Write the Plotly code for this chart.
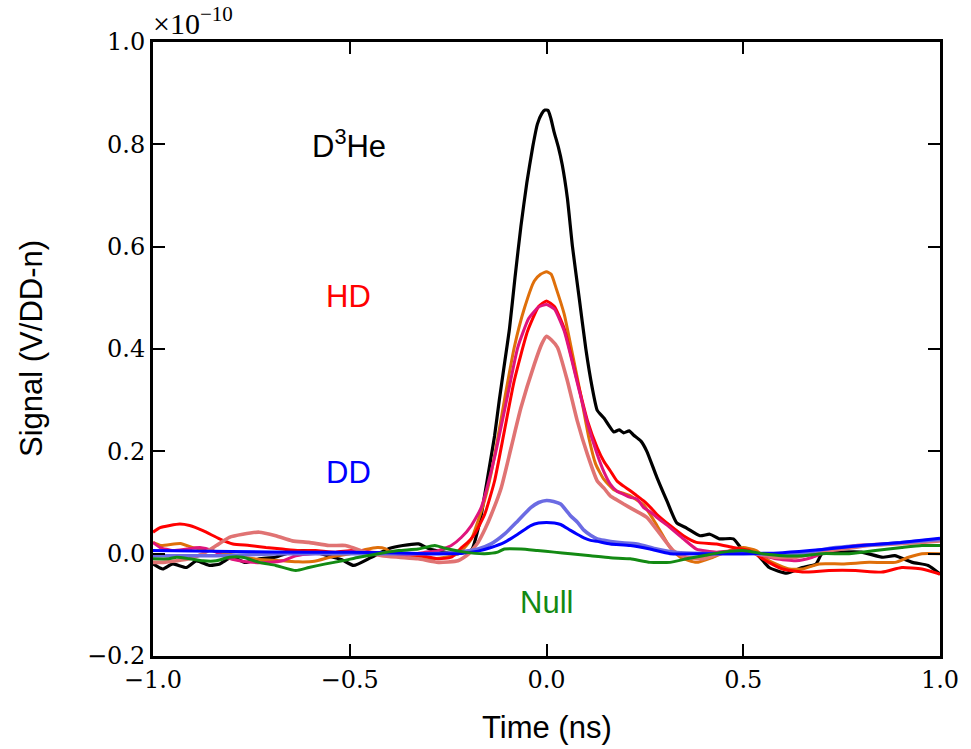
import plotly.graph_objects as go

# values in units of 1e-10 V/DD-n, time in ns
t_black = [-1.0,-0.975,-0.95,-0.915,-0.89,-0.855,-0.83,-0.8,-0.765,-0.73,-0.69,-0.645,-0.605,-0.555,-0.52,-0.49,-0.445,-0.4,-0.365,-0.325,-0.3,-0.26,-0.225,-0.19,-0.175,-0.166,-0.157,-0.145,-0.132,-0.12,-0.107,-0.094,-0.08,-0.065,-0.05,-0.035,-0.023,-0.012,-0.004,0.004,0.011,0.019,0.03,0.04,0.053,0.066,0.083,0.1,0.116,0.129,0.146,0.171,0.185,0.196,0.21,0.221,0.24,0.255,0.28,0.306,0.331,0.356,0.39,0.415,0.44,0.475,0.5,0.533,0.566,0.61,0.65,0.685,0.7,0.75,0.8,0.855,0.885,0.93,0.97,1.0]
v_black = [-0.02,-0.03,-0.02,-0.027,-0.014,-0.023,-0.02,-0.007,-0.017,-0.01,-0.007,0.004,0.006,-0.004,-0.012,-0.023,-0.007,0.01,0.016,0.019,0.01,0.003,0.0,0.008,0.045,0.075,0.115,0.17,0.23,0.30,0.37,0.44,0.54,0.64,0.725,0.795,0.84,0.86,0.867,0.866,0.851,0.825,0.795,0.76,0.695,0.6,0.5,0.4,0.325,0.28,0.265,0.238,0.242,0.236,0.24,0.232,0.22,0.2,0.15,0.103,0.06,0.05,0.035,0.038,0.029,0.029,0.006,0.0,-0.027,-0.038,-0.027,-0.02,0.0,0.003,0.003,-0.007,-0.004,-0.017,-0.023,-0.04]

t_orange = [-1.0,-0.98,-0.93,-0.9,-0.865,-0.814,-0.76,-0.72,-0.67,-0.63,-0.59,-0.545,-0.5,-0.46,-0.43,-0.41,-0.39,-0.36,-0.326,-0.292,-0.25,-0.225,-0.208,-0.19,-0.174,-0.157,-0.141,-0.124,-0.107,-0.082,-0.056,-0.031,-0.015,0.0,0.012,0.024,0.045,0.066,0.087,0.108,0.125,0.146,0.171,0.213,0.247,0.28,0.314,0.34,0.381,0.423,0.465,0.5,0.533,0.566,0.617,0.65,0.693,0.752,0.82,0.886,0.92,0.954,1.0]
v_orange = [0.022,0.016,0.02,0.012,0.008,0.0,-0.008,-0.012,-0.014,-0.016,-0.015,-0.006,0.0,0.008,0.012,0.01,0.0,0.0,-0.007,-0.01,-0.006,0.0,0.012,0.03,0.064,0.105,0.156,0.225,0.3,0.403,0.48,0.533,0.546,0.551,0.546,0.52,0.468,0.39,0.31,0.225,0.175,0.145,0.125,0.113,0.095,0.056,0.012,-0.007,-0.017,-0.007,0.006,0.012,0.006,-0.014,-0.03,-0.03,-0.02,-0.02,-0.017,-0.017,-0.007,0.0,0.0]

t_red = [-1.0,-0.982,-0.932,-0.907,-0.873,-0.831,-0.797,-0.755,-0.713,-0.671,-0.629,-0.587,-0.536,-0.494,-0.444,-0.38,-0.317,-0.275,-0.242,-0.216,-0.2,-0.183,-0.157,-0.132,-0.107,-0.082,-0.048,-0.02,0.0,0.02,0.045,0.078,0.104,0.129,0.146,0.162,0.179,0.196,0.213,0.23,0.247,0.272,0.28,0.314,0.348,0.381,0.432,0.474,0.516,0.558,0.6,0.65,0.718,0.785,0.853,0.903,0.954,1.0]
v_red = [0.042,0.051,0.058,0.055,0.045,0.029,0.019,0.016,0.012,0.009,0.006,0.006,0.003,0.006,0.003,0.0,-0.004,-0.01,-0.007,0.012,0.022,0.038,0.077,0.142,0.24,0.338,0.435,0.483,0.494,0.483,0.44,0.338,0.26,0.207,0.18,0.162,0.142,0.132,0.123,0.113,0.103,0.084,0.077,0.055,0.035,0.022,0.019,0.012,0.006,-0.014,-0.03,-0.036,-0.033,-0.033,-0.036,-0.027,-0.03,-0.04]

t_pink = [-1.0,-0.982,-0.949,-0.915,-0.881,-0.848,-0.814,-0.78,-0.747,-0.704,-0.671,-0.637,-0.595,-0.545,-0.5,-0.477,-0.427,-0.359,-0.309,-0.275,-0.242,-0.216,-0.191,-0.166,-0.132,-0.1,-0.073,-0.045,-0.02,0.0,0.02,0.045,0.078,0.104,0.129,0.146,0.162,0.179,0.196,0.213,0.23,0.247,0.263,0.28,0.314,0.348,0.381,0.432,0.49,0.533,0.583,0.634,0.676,0.718,0.785,0.853,0.92,1.0]
v_pink = [0.022,0.012,0.006,0.009,0.012,0.006,-0.007,-0.014,-0.017,-0.017,-0.014,-0.004,0.0,0.0,0.004,0.006,0.0,-0.004,0.003,0.006,0.016,0.032,0.055,0.09,0.188,0.305,0.403,0.46,0.482,0.487,0.478,0.435,0.335,0.255,0.194,0.16,0.136,0.122,0.116,0.11,0.107,0.09,0.082,0.071,0.051,0.029,0.009,0.003,0.006,0.0,-0.01,-0.014,-0.007,0.006,0.016,0.019,0.022,0.026]

t_lightred = [-1.0,-0.974,-0.94,-0.907,-0.873,-0.839,-0.806,-0.772,-0.73,-0.688,-0.646,-0.604,-0.553,-0.511,-0.494,-0.46,-0.418,-0.376,-0.326,-0.275,-0.225,-0.2,-0.174,-0.155,-0.141,-0.115,-0.09,-0.065,-0.031,-0.012,0.0,0.012,0.028,0.053,0.078,0.104,0.129,0.146,0.162,0.179,0.196,0.221,0.255,0.289,0.322,0.356,0.398,0.44,0.49,0.533,0.583,0.634,0.693,0.752,0.82,0.886,0.954,1.0]
v_lightred = [-0.017,-0.017,-0.014,-0.01,0.0,0.016,0.032,0.038,0.042,0.035,0.025,0.022,0.016,0.016,0.012,0.003,-0.004,-0.007,-0.01,-0.017,-0.014,-0.002,0.022,0.05,0.075,0.129,0.207,0.285,0.37,0.41,0.425,0.418,0.403,0.338,0.26,0.194,0.142,0.128,0.113,0.105,0.097,0.086,0.071,0.038,0.006,-0.007,-0.01,0.0,0.003,0.0,-0.007,-0.007,0.003,0.009,0.016,0.019,0.022,0.025]

t_lightblue = [-1.0,-0.84,-0.67,-0.5,-0.35,-0.275,-0.225,-0.174,-0.141,-0.107,-0.073,-0.04,-0.02,0.0,0.018,0.036,0.061,0.078,0.095,0.112,0.129,0.146,0.179,0.23,0.28,0.331,0.398,0.5,0.634,0.735,0.861,1.0]
v_lightblue = [-0.004,-0.004,0.0,0.0,0.0,0.0,0.003,0.009,0.019,0.038,0.064,0.09,0.1,0.104,0.102,0.097,0.074,0.062,0.046,0.036,0.029,0.026,0.022,0.019,0.009,0.002,0.0,0.0,0.0,0.012,0.019,0.028]

t_blue = [-1.0,-0.8,-0.6,-0.4,-0.3,-0.225,-0.174,-0.141,-0.107,-0.073,-0.04,-0.02,0.0,0.02,0.036,0.06,0.078,0.095,0.112,0.129,0.162,0.213,0.263,0.314,0.4,0.5,0.6,0.7,0.8,0.9,1.0]
v_blue = [0.006,0.004,0.003,0.002,0.0,0.0,0.005,0.012,0.022,0.038,0.055,0.06,0.061,0.06,0.057,0.046,0.038,0.031,0.026,0.024,0.019,0.016,0.009,0.0,0.0,0.0,0.002,0.008,0.016,0.022,0.03]

t_green = [-1.0,-0.96,-0.94,-0.907,-0.873,-0.839,-0.806,-0.772,-0.73,-0.688,-0.637,-0.604,-0.561,-0.519,-0.477,-0.427,-0.376,-0.326,-0.284,-0.25,-0.208,-0.157,-0.124,-0.107,-0.065,-0.023,0.019,0.061,0.112,0.162,0.213,0.263,0.314,0.356,0.398,0.449,0.5,0.55,0.6,0.65,0.701,0.769,0.836,0.903,0.954,1.0]
v_green = [-0.01,-0.01,-0.007,-0.01,-0.014,-0.014,-0.007,-0.007,-0.017,-0.023,-0.033,-0.027,-0.02,-0.014,-0.007,0.0,0.006,0.009,0.016,0.009,0.003,0.0,0.003,0.009,0.009,0.006,0.003,0.0,-0.004,-0.008,-0.01,-0.017,-0.017,-0.01,-0.004,0.003,0.006,0.0,-0.004,-0.004,0.0,0.0,0.006,0.012,0.016,0.016]

x_ticks = [-1.0, -0.5, 0.0, 0.5, 1.0]
x_ticktext = ["\u22121.0", "\u22120.5", "0.0", "0.5", "1.0"]
y_ticks = [-0.2, 0.0, 0.2, 0.4, 0.6, 0.8, 1.0]
y_ticktext = ["\u22120.2", "0.0", "0.2", "0.4", "0.6", "0.8", "1.0"]

labels = ["D<sup>3</sup>He", "HD", "DD", "Null"]
label_x = [-0.503, -0.503, -0.503, 0.0]
label_y = [0.80, 0.503, 0.158, -0.096]
label_colors = ["#000000", "#ff0000", "#0000ff", "#138a13"]

series = [
    (t_black, v_black, "#000000", 3.2),
    (t_orange, v_orange, "#df6f0a", 3.0),
    (t_red, v_red, "#ff0000", 3.0),
    (t_pink, v_pink, "#e0147c", 3.0),
    (t_lightred, v_lightred, "#e07373", 3.6),
    (t_lightblue, v_lightblue, "#6b6be3", 3.6),
    (t_blue, v_blue, "#0000ff", 3.0),
    (t_green, v_green, "#138a13", 3.0),
]

fig = go.Figure()
for t, v, c, w in series:
    fig.add_trace(go.Scatter(x=t, y=v, mode="lines",
                             line=dict(color=c, width=w, shape="spline", smoothing=0.5),
                             showlegend=False, hoverinfo="skip"))

for txt, lx, ly, lc in zip(labels, label_x, label_y, label_colors):
    fig.add_annotation(x=lx, y=ly, xref="x", yref="y", text=txt, showarrow=False,
                       font=dict(family="Liberation Sans, Arial, sans-serif", size=31, color=lc),
                       xanchor="center", yanchor="middle")

serif = "DejaVu Serif, Liberation Serif, serif"
sans = "Liberation Sans, Arial, sans-serif"

fig.add_annotation(x=0.0, y=1.0, xref="paper", yref="paper", xshift=-2, yshift=0,
                   text="\u00d710<sup>\u221210</sup>", showarrow=False,
                   font=dict(family="Liberation Serif, serif", size=30, color="black"),
                   xanchor="left", yanchor="bottom")
fig.add_annotation(x=0.5, y=-0.116, xref="paper", yref="paper", text="Time (ns)",
                   showarrow=False, font=dict(family=sans, size=31, color="black"),
                   xanchor="center", yanchor="middle")
fig.add_annotation(x=-0.155, y=0.5, xref="paper", yref="paper", text="Signal (V/DD-n)",
                   showarrow=False, textangle=-90, font=dict(family=sans, size=31, color="black"),
                   xanchor="center", yanchor="middle")

axis_common = dict(showline=True, linecolor="black", linewidth=3, mirror="ticks",
                   ticks="inside", ticklen=12, tickwidth=1.5, tickcolor="black",
                   showgrid=False, zeroline=False,
                   tickfont=dict(family=serif, size=24, color="black"))

fig.update_xaxes(range=[-1.0, 1.0], tickvals=x_ticks, ticktext=x_ticktext, **axis_common)
fig.update_yaxes(range=[-0.2, 1.0], tickvals=y_ticks, ticktext=y_ticktext, **axis_common)

fig.update_layout(width=971, height=749, margin=dict(l=153, r=26, t=42, b=93),
                  paper_bgcolor="white", plot_bgcolor="white")

fig.write_html("out.html")
